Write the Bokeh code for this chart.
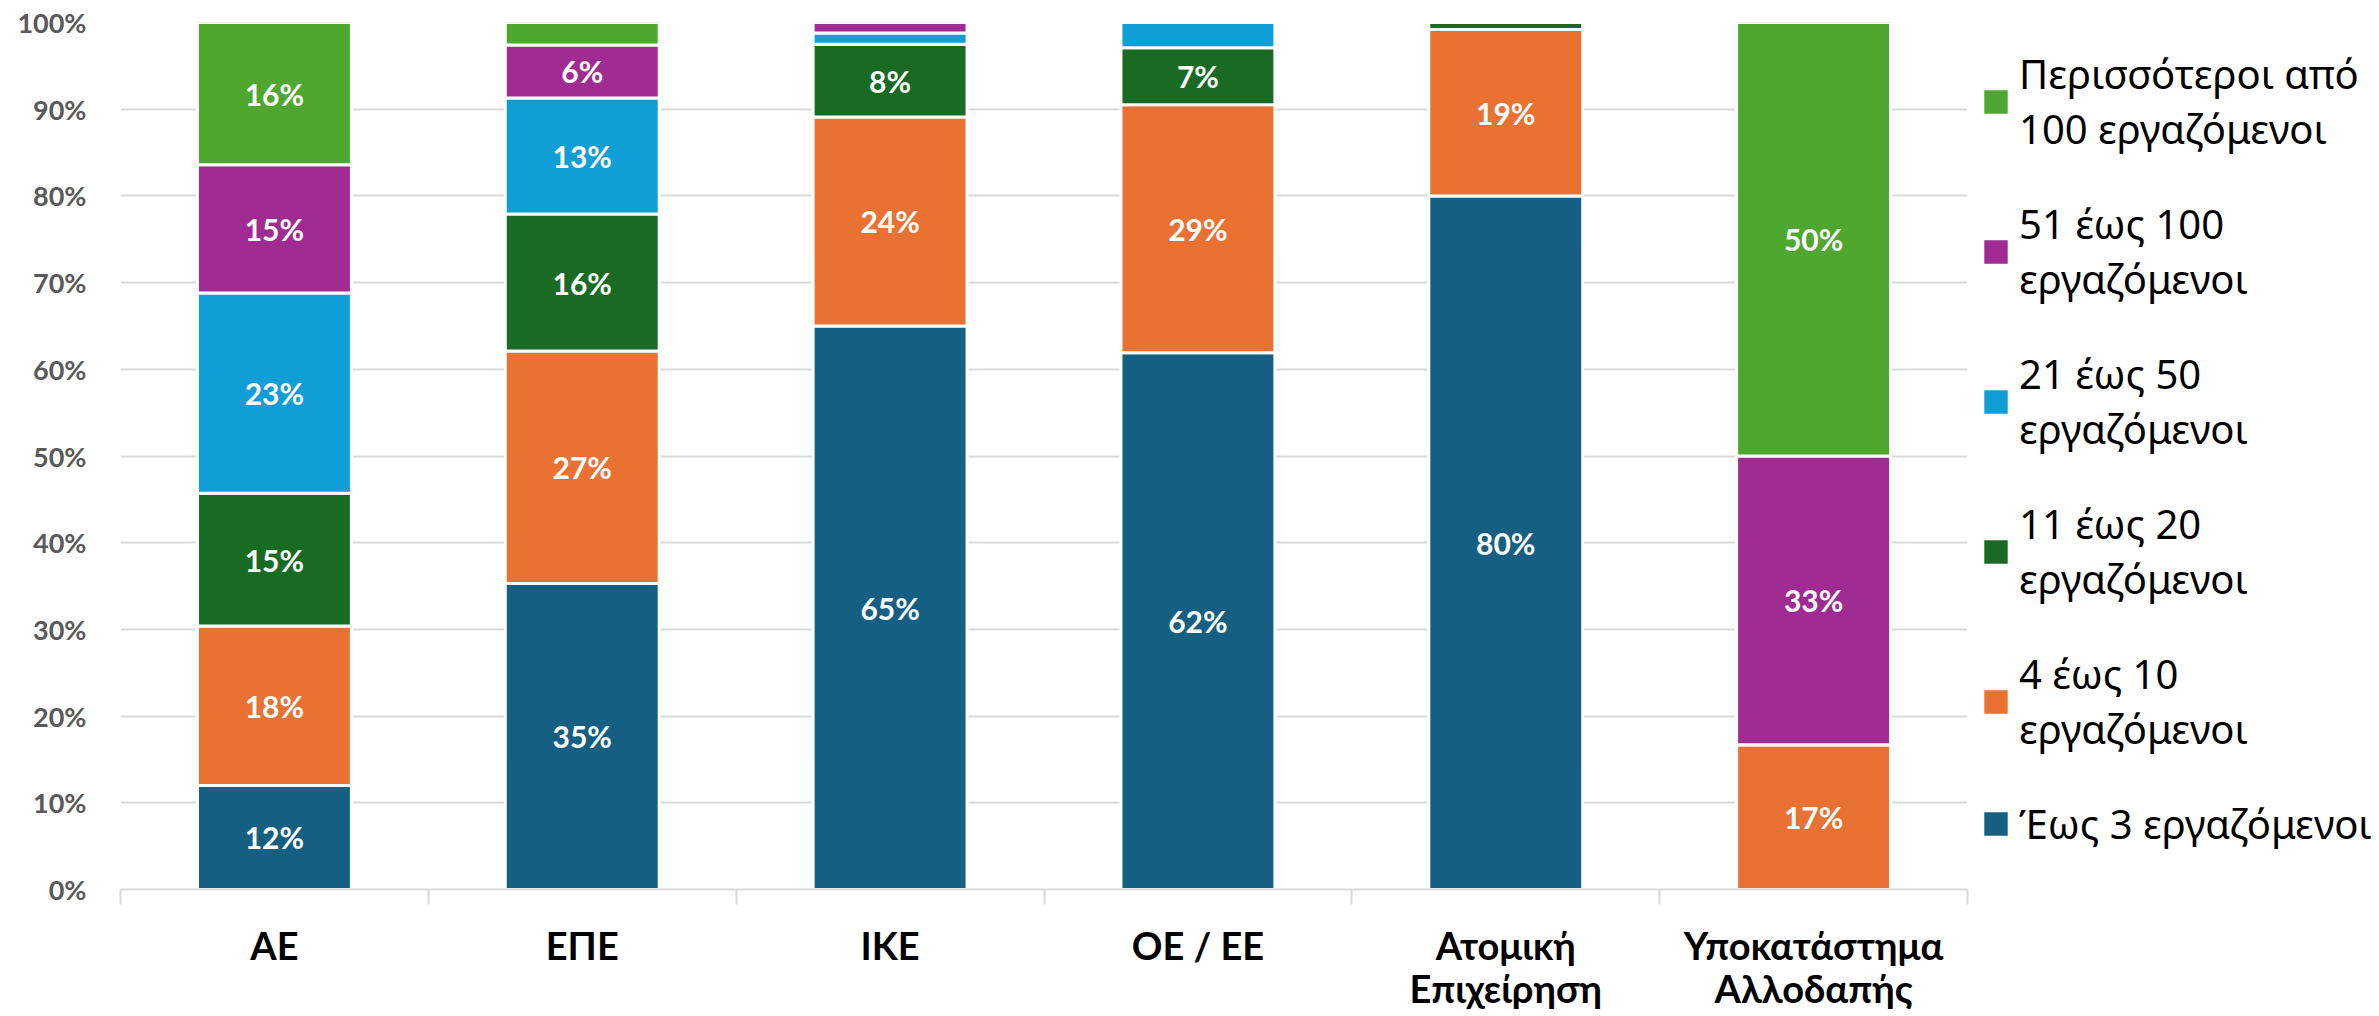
import numpy as np
from bokeh.plotting import figure
from bokeh.models import (ColumnDataSource, Range1d, FixedTicker, PrintfTickFormatter,
                          Legend, LegendItem)
from bokeh.core.properties import value
from bokeh.embed import file_html
from bokeh.resources import INLINE

# ---------------- data ----------------
categories = ["ΑΕ", "ΕΠΕ", "ΙΚΕ", "ΟΕ / ΕΕ", "Ατομική\nΕπιχείρηση", "Υποκατάστημα\nΑλλοδαπής"]
series_names = ["Έως 3 εργαζόμενοι", "4 έως 10\nεργαζόμενοι", "11 έως 20\nεργαζόμενοι",
                "21 έως 50\nεργαζόμενοι", "51 έως 100\nεργαζόμενοι",
                "Περισσότεροι από\n100 εργαζόμενοι"]
upto3 = [12.0, 35.3, 65.0, 61.9, 80.0, 0.0]
e4_10 = [18.4, 26.8, 24.1, 28.6, 19.2, 16.7]
e11_20 = [15.3, 15.8, 8.4, 6.6, 0.8, 0.0]
e21_50 = [23.1, 13.4, 1.3, 2.9, 0.0, 0.0]
e51_100 = [14.8, 6.1, 1.2, 0.0, 0.0, 33.3]
over100 = [16.4, 2.6, 0.0, 0.0, 0.0, 50.0]
y_ticks = [0, 10, 20, 30, 40, 50, 60, 70, 80, 90, 100]
colors = ["#156082", "#E97132", "#196B24", "#0F9ED5", "#A02B93", "#4EA72E"]

FONT = "Lato"
LEGEND_FONT = "Noto Sans"

series = [upto3, e4_10, e11_20, e21_50, e51_100, over100]
keys = ["s0", "s1", "s2", "s3", "s4", "s5"]
xs = list(range(1, len(categories) + 1))
data = {"x": xs}
for k, s in zip(keys, series):
    data[k] = s
source = ColumnDataSource(data)

p = figure(frame_width=1847, frame_height=867,
           x_range=Range1d(0.5, len(categories) + 0.5), y_range=Range1d(0, 100),
           output_backend="svg", toolbar_location=None,
           min_border_top=22, min_border_left=120, min_border_bottom=0, min_border_right=0)
p.outline_line_color = None
p.background_fill_color = "white"
p.border_fill_color = "white"

renderers = p.vbar_stack(keys, x="x", width=0.5, color=colors, source=source,
                         line_color="white", line_width=3)

# data labels
lx, ly, lt = [], [], []
arr = np.array(series)
cum = np.cumsum(arr, axis=0)
for si in range(arr.shape[0]):
    for ci in range(arr.shape[1]):
        v = arr[si, ci]
        if v >= 5:
            lx.append(xs[ci])
            ly.append(cum[si, ci] - v / 2)
            lt.append(f"{round(v)}%")
p.text(x=lx, y=ly, text=lt, text_align="center", text_baseline="middle",
       text_font=value(FONT), text_font_style="bold", text_font_size="30px",
       text_color="white")

# grid
p.xgrid.visible = False
p.ygrid.ticker = FixedTicker(ticks=y_ticks)
p.ygrid.grid_line_color = "#d9d9d9"
p.ygrid.grid_line_width = 2

# y axis
ya = p.yaxis[0]
ya.ticker = FixedTicker(ticks=y_ticks)
ya.formatter = PrintfTickFormatter(format="%d%%")
ya.axis_line_color = None
ya.major_tick_line_color = None
ya.minor_tick_line_color = None
ya.major_tick_out = 0
ya.major_label_standoff = 34
ya.major_label_text_font = FONT
ya.major_label_text_font_style = "bold"
ya.major_label_text_font_size = "27px"
ya.major_label_text_color = "#595959"

# x axis
xa = p.xaxis[0]
xa.ticker = FixedTicker(ticks=xs, minor_ticks=[x - 0.5 for x in xs] + [xs[-1] + 0.5])
xa.major_label_overrides = {x: c for x, c in zip(xs, categories)}
xa.axis_line_color = "#d9d9d9"
xa.axis_line_width = 2
xa.major_tick_line_color = None
xa.major_tick_out = 0
xa.major_tick_in = 0
xa.minor_tick_line_color = "#d9d9d9"
xa.minor_tick_line_width = 2
xa.minor_tick_in = 0
xa.minor_tick_out = 15
xa.major_label_standoff = 17
xa.major_label_text_font = FONT
xa.major_label_text_font_style = "bold"
xa.major_label_text_font_size = "38px"
xa.major_label_text_color = "black"
xa.major_label_text_line_height = 0.95

# legend
items = [LegendItem(label=n, renderers=[r]) for n, r in zip(series_names, renderers)]
items = items[::-1]
legend = Legend(items=items, location=(12, 38), orientation="vertical",
                glyph_width=33, glyph_height=33, label_standoff=7,
                label_text_font=LEGEND_FONT, label_text_font_size="40px",
                label_text_color="black", label_text_line_height=0.9,
                spacing=40, padding=0, margin=12,
                border_line_color=None, background_fill_alpha=0)
p.add_layout(legend, "right")

open("out.html", "w").write(file_html(p, INLINE))
